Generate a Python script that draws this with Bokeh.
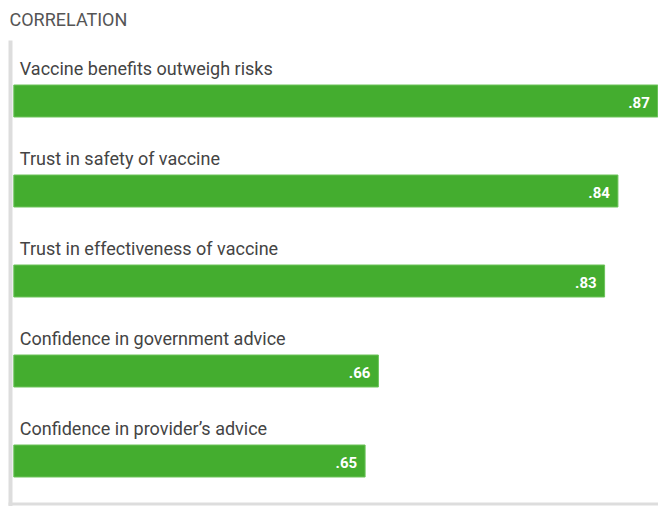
from bokeh.plotting import figure
from bokeh.models import Range1d, ColumnDataSource, BoxAnnotation, Label
from bokeh.embed import file_html
from bokeh.resources import INLINE
from bokeh.core.properties import value

# ---- data ----
categories = [
    "Vaccine benefits outweigh risks",
    "Trust in safety of vaccine",
    "Trust in effectiveness of vaccine",
    "Confidence in government advice",
    "Confidence in provider\u2019s advice",
]
correlations = [0.87, 0.84, 0.83, 0.66, 0.65]
value_labels = [".87", ".84", ".83", ".66", ".65"]
title_text = "CORRELATION"

# ---- layout ----
W, H = 658, 506
AXIS_START = 0.386          # value at the bars' baseline
X_START, X_END = 0.376, 0.8705
ROW_PX = 90.0
FIRST_CENTER_PX = 100.5

rows = list(range(len(categories)))
src = ColumnDataSource(dict(
    row=rows,
    cat=categories,
    val=correlations,
    lab=value_labels,
    base=[AXIS_START] * len(rows),
))

p = figure(
    width=W, height=H, output_backend="svg", toolbar_location=None,
    x_range=Range1d(X_START, X_END),
    y_range=Range1d((H - FIRST_CENTER_PX) / ROW_PX, -FIRST_CENTER_PX / ROW_PX),
    min_border=0, min_border_left=0, min_border_right=0,
    min_border_top=0, min_border_bottom=0,
)
p.axis.visible = False
p.grid.visible = False
p.outline_line_color = None
p.background_fill_color = "white"
p.border_fill_color = "white"

BAR = "#44ad2f"
p.hbar(y="row", left="base", right="val", height=32 / ROW_PX, source=src,
       fill_color=BAR, line_color="#6cc35a", line_width=1)

p.text(x="base", y="row", text="cat", source=src, x_offset=6, y_offset=-33,
       text_align="left", text_baseline="alphabetic",
       text_font=value("Roboto"), text_font_size="18px", text_color="#444444")

p.text(x="val", y="row", text="lab", source=src, x_offset=-8, y_offset=1,
       text_align="right", text_baseline="middle",
       text_font=value("Roboto"), text_font_style="bold", text_font_size="15px",
       text_color="white")

# axis lines (screen units, origin bottom-left)
p.add_layout(BoxAnnotation(left=8, right=12, top=H - 40, bottom=0,
                           left_units="screen", right_units="screen",
                           top_units="screen", bottom_units="screen",
                           fill_color="#dddddd", fill_alpha=1, line_color=None,
                           level="underlay"))
p.add_layout(BoxAnnotation(left=8, right=W, top=H - 502, bottom=H - 505,
                           left_units="screen", right_units="screen",
                           top_units="screen", bottom_units="screen",
                           fill_color="#dddddd", fill_alpha=1, line_color=None,
                           level="underlay"))

p.add_layout(Label(x=9, y=H - 19, x_units="screen", y_units="screen", text=title_text,
                   text_baseline="middle", text_align="left",
                   text_font="Roboto", text_font_size="18px", text_color="#555555"))

open("out.html", "w").write(file_html(p, INLINE))
